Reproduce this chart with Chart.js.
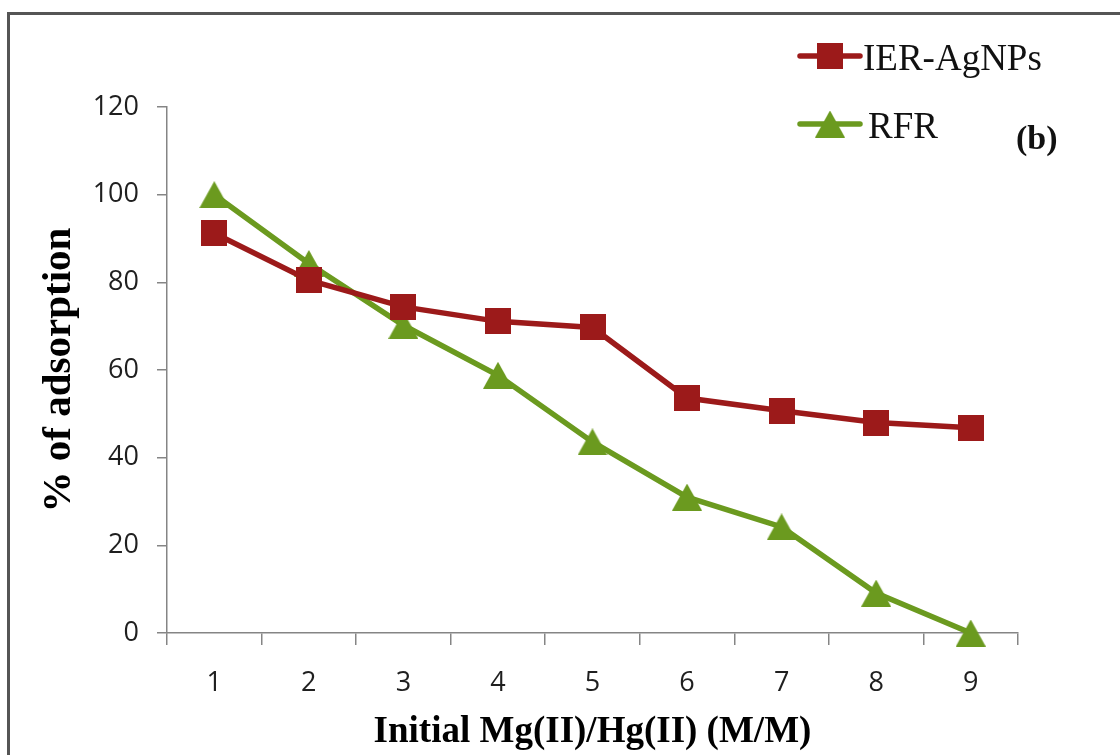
<!DOCTYPE html>
<html>
<head>
<meta charset="utf-8">
<script src="https://cdn.jsdelivr.net/npm/chart.js@4/dist/chart.umd.min.js"></script>
<style>
  html, body { margin: 0; padding: 0; background: #fff; overflow: hidden; }
  #wrap { position: relative; width: 1120px; height: 755px; }
  #frame { position: absolute; left: 7px; top: 12px; width: 1200px; height: 800px; border: 3px solid #555; }
  #myChart { position: absolute; left: 0; top: 0; }
</style>
</head>
<body>
<div id="wrap">
  <div id="frame"></div>
  <canvas id="myChart" width="1120" height="755"></canvas>
</div>
<script>
// x categories: Mg(II)/Hg(II) ratio
const categories = ['1', '2', '3', '4', '5', '6', '7', '8', '9'];
// % of adsorption for each resin
const ierAgNPs = [91.2, 80.5, 74.4, 71.1, 69.7, 53.6, 50.7, 48.0, 46.8];
const rfr = [100, 84.3, 70.2, 58.8, 43.6, 31.0, 24.2, 9.1, 0];
const seriesNames = ['IER-AgNPs', 'RFR'];
// y axis ticks
const yMin = 0;
const yMax = 120;
const yStep = 20;

const RED = '#9c1a1a';
const GREEN = '#6b9a1f';

// marker images, centred on their bounding box
function squareMarker(color) {
  const c = document.createElement('canvas');
  c.width = 26; c.height = 26;
  const g = c.getContext('2d');
  g.fillStyle = color;
  g.fillRect(0, 0, 26, 26);
  return c;
}
function triangleMarker(color) {
  const c = document.createElement('canvas');
  c.width = 30; c.height = 27;
  const g = c.getContext('2d');
  g.fillStyle = color;
  g.beginPath();
  g.moveTo(15, 0);
  g.lineTo(30, 27);
  g.lineTo(0, 27);
  g.closePath();
  g.fill();
  return c;
}
const redSquare = squareMarker(RED);
const greenTriangle = triangleMarker(GREEN);

// legend + panel label
const extrasPlugin = {
  id: 'extras',
  afterDraw(chart) {
    const ctx = chart.ctx;
    const rows = [56, 124];
    ctx.save();
    chart.data.datasets.forEach((ds, i) => {
      const y = rows[i];
      ctx.strokeStyle = ds.borderColor;
      ctx.lineWidth = 5.5;
      ctx.lineCap = 'round';
      ctx.beginPath();
      ctx.moveTo(800, y);
      ctx.lineTo(860, y);
      ctx.stroke();
      const img = ds.pointStyle;
      ctx.drawImage(img, 830 - img.width / 2, y - img.height / 2);
      ctx.fillStyle = '#111';
      ctx.font = '37px "Liberation Serif"';
      ctx.textBaseline = 'alphabetic';
      ctx.textAlign = 'left';
      ctx.fillText(ds.label, i === 0 ? 863 : 868, y + 14);
    });
    ctx.font = 'bold 34px "Liberation Serif"';
    ctx.fillStyle = '#111';
    ctx.fillText('(b)', 1016, 149);
    ctx.restore();
  }
};

const tickFont = { family: '"Open Sans"', size: 27 };
const titleFont = { family: '"Liberation Serif"', weight: 'bold' };

new Chart(document.getElementById('myChart'), {
  type: 'line',
  data: {
    labels: categories,
    datasets: [
      {
        label: seriesNames[0],
        data: ierAgNPs,
        borderColor: RED,
        backgroundColor: RED,
        borderWidth: 5.5,
        pointStyle: redSquare,
        clip: false,
        tension: 0
      },
      {
        label: seriesNames[1],
        data: rfr,
        borderColor: GREEN,
        backgroundColor: GREEN,
        borderWidth: 5.5,
        pointStyle: greenTriangle,
        clip: false,
        tension: 0
      }
    ]
  },
  options: {
    responsive: false,
    animation: false,
    layout: { padding: { top: 107, right: 102, left: 0, bottom: 0 } },
    plugins: {
      legend: { display: false },
      tooltip: { enabled: false }
    },
    scales: {
      x: {
        offset: true,
        grid: { offset: true, drawOnChartArea: false, tickLength: 12, color: '#858585', lineWidth: 1.5 },
        border: { color: '#858585', width: 1.5 },
        ticks: { font: tickFont, color: '#1f1f1f', padding: 22, maxRotation: 0 },
        title: {
          display: true,
          text: 'Initial Mg(II)/Hg(II) (M/M)',
          font: { ...titleFont, size: 37 },
          color: '#000',
          padding: { top: 0, bottom: 0 }
        },
        afterFit(scale) { scale.height = 122; }
      },
      y: {
        min: yMin,
        max: yMax,
        grid: { drawOnChartArea: false, tickLength: 10, color: '#858585', lineWidth: 1.5 },
        border: { color: '#858585', width: 1.5 },
        ticks: { stepSize: yStep, font: tickFont, color: '#1f1f1f', padding: 18 },
        title: {
          display: true,
          text: '% of adsorption',
          font: { ...titleFont, size: 41 },
          color: '#000',
          padding: { top: 35, bottom: 0 }
        },
        afterFit(scale) { scale.width = 167; }
      }
    }
  },
  plugins: [extrasPlugin]
});
</script>
</body>
</html>
